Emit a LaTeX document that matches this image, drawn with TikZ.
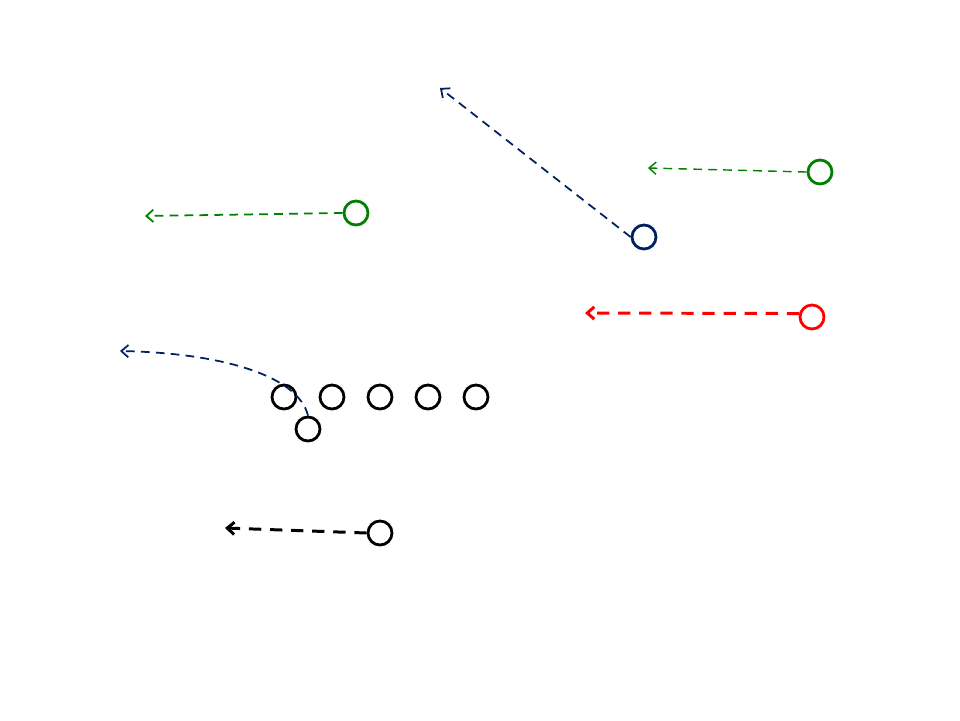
\documentclass[tikz,border=0pt]{standalone}
\usepackage{tikz}
\usetikzlibrary{arrows.meta}

\definecolor{navy}{RGB}{0,32,96}
\definecolor{fieldgreen}{RGB}{0,128,0}

\begin{document}
\begin{tikzpicture}[
    x=0.02cm, y=-0.02cm,
    >={Straight Barb[length=4pt, width=7pt]},
    % Player markers
    player/.style={circle, draw=black, line width=1.6pt, minimum size=0.48cm, inner sep=0pt},
    % Route lines
    route_thin/.style={->, dashed, line width=0.8pt, dash pattern=on 5pt off 3.5pt},
    route_thick/.style={->, line width=1.7pt, dash pattern=on 7pt off 5pt}
]

% Fix the canvas to the reference proportions
\useasboundingbox (0,0) rectangle (960,720);

% --- 1. Offensive line and backs ---
\foreach \i/\x in {1/284, 2/332, 3/380, 4/428, 5/476}
    \node[player] (ol\i) at (\x,397) {};
\node[player] (qb) at (308,429) {};
\node[player] (rb) at (380,533) {};

% --- 2. Receivers ---
\node[player, draw=fieldgreen] (wr_left) at (356,213) {};
\node[player, draw=fieldgreen] (wr_right) at (820,172) {};
\node[player, draw=navy] (te) at (644,237) {};
\node[player, draw=red] (slot) at (812,317) {};

% Route end points
\coordinate (wr_left_end) at (145,216);
\coordinate (wr_right_end) at (648,168);
\coordinate (te_end) at (440,88);
\coordinate (slot_end) at (585,313);
\coordinate (qb_end) at (120,351);
\coordinate (rb_end) at (225,528);

% --- 3. Routes ---
\draw[route_thin, fieldgreen, line width=1pt] (wr_left.west) -- (wr_left_end);
\draw[route_thin, fieldgreen] (wr_right.west) -- (wr_right_end);
\draw[route_thin, navy, line width=1pt] (te.west) -- (te_end);
\draw[route_thick, red] (slot.165) -- (slot_end);
\draw[route_thin, navy, line width=1pt] (qb.north) .. controls (298,375) and (220,353) .. (qb_end);
\draw[route_thick, black] (rb.west) -- (rb_end);

\end{tikzpicture}
\end{document}
